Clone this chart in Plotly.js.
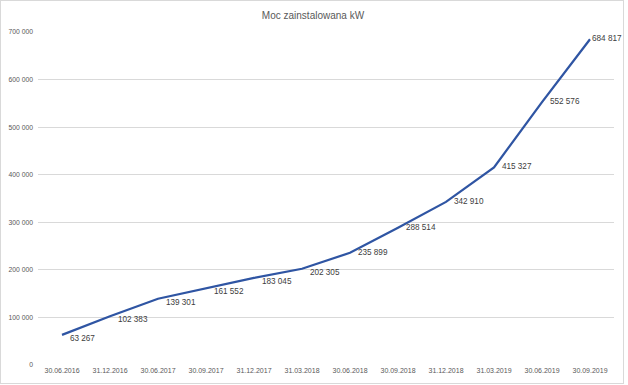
<!DOCTYPE html>
<html>
<head>
<meta charset="utf-8">
<script src="https://cdn.plot.ly/plotly-3.0.1.min.js"></script>
<style>
  html, body { margin: 0; padding: 0; background: #fff; }
  #wrap { position: relative; width: 628px; height: 385px; }
  #chart { position: absolute; left: 0; top: 0; width: 628px; height: 385px; }
  #frame { position: absolute; left: 0; top: 0; width: 622px; height: 382px; border: 1px solid #D9D9D9; pointer-events: none; }
</style>
</head>
<body>
<div id="wrap"><div id="chart"></div><div id="frame"></div></div>
<script>
const categories = ["30.06.2016","31.12.2016","30.06.2017","30.09.2017","31.12.2017","31.03.2018","30.06.2018","30.09.2018","31.12.2018","31.03.2019","30.06.2019","30.09.2019"];
const values = [63267, 102383, 139301, 161552, 183045, 202305, 235899, 288514, 342910, 415327, 552576, 684817];
const yTicks = [0, 100000, 200000, 300000, 400000, 500000, 600000, 700000];
const chartTitle = "Moc zainstalowana kW";

const FONT = 'Liberation Sans, Arial, sans-serif';
const H = 385, T = 32, B = 20;
const yMax = 700000;
const plotH = H - T - B;
const shiftPx = 4; // early data labels sit a little below their points
const shiftUnits = yMax / plotH * shiftPx;

const n = values.length;
const splitAt = 6;
const lblFmt = '%{y:,d}';
const tplLine = values.map((v, i) => i >= splitAt ? lblFmt : ' ');
const tplLow = values.map((v, i) => i < splitAt ? lblFmt : ' ');
const markerSizes = values.map((v, i) => i === n - 1 ? 1.6 : 11);

const lineTrace = {
  x: categories, y: values, type: 'scatter',
  mode: 'lines+markers+text',
  line: { color: '#2F55A3', width: 2.25 },
  marker: { size: markerSizes, opacity: 0, color: '#2F55A3' },
  texttemplate: tplLine,
  textposition: 'middle right',
  textfont: { family: FONT, size: 8.2, color: '#404040' },
  cliponaxis: false, hoverinfo: 'none'
};

const lowLabels = {
  x: categories, y: values, type: 'scatter', yaxis: 'y2',
  mode: 'markers+text',
  marker: { size: 11, opacity: 0, color: '#2F55A3' },
  texttemplate: tplLow,
  textposition: 'middle right',
  textfont: { family: FONT, size: 8.2, color: '#404040' },
  cliponaxis: false, hoverinfo: 'none'
};

const layout = {
  width: 628, height: H,
  margin: { l: 38, r: 14, t: T, b: B },
  paper_bgcolor: '#ffffff', plot_bgcolor: '#ffffff',
  separators: ', ',
  showlegend: false,
  title: { text: chartTitle, x: 313 / 628, xref: 'container', xanchor: 'center', y: 1 - 15 / H, yref: 'container', yanchor: 'middle',
           font: { family: FONT, size: 10, color: '#595959' } },
  xaxis: {
    type: 'category', range: [-0.5, 11.5],
    showgrid: false, zeroline: false, showline: false, ticks: '',
    tickfont: { family: FONT, size: 7, color: '#595959' },
    fixedrange: true
  },
  yaxis: {
    range: [0, yMax], tickvals: yTicks, tickformat: ',d',
    showgrid: true, gridcolor: '#D9D9D9', gridwidth: 1,
    zeroline: false, showline: false, ticks: '',
    ticklabelstandoff: 4,
    tickfont: { family: FONT, size: 6.8, color: '#595959' },
    fixedrange: true
  },
  yaxis2: {
    overlaying: 'y', range: [shiftUnits, yMax + shiftUnits],
    visible: false, showgrid: false, zeroline: false, fixedrange: true
  }
};

Plotly.newPlot('chart', [lineTrace, lowLabels], layout, { staticPlot: true, displayModeBar: false });
</script>
</body>
</html>
